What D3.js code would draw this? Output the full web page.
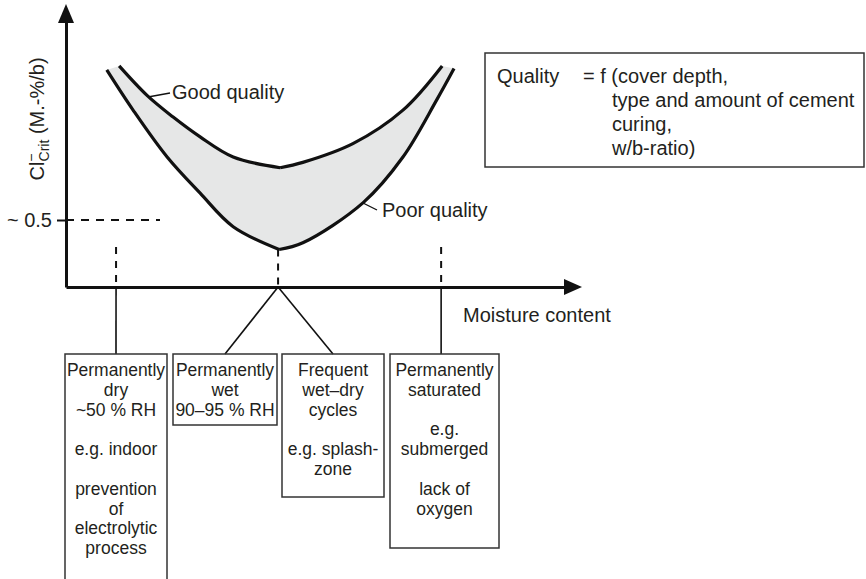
<!DOCTYPE html>
<html>
<head>
<meta charset="utf-8">
<script src="https://cdn.jsdelivr.net/npm/d3@7"></script>
<style>
  body { margin: 0; background: #fff; }
  svg { font-family: "Liberation Sans", Arial, sans-serif; }
  text { fill: #231f20; }
</style>
</head>
<body>
<script>
// critical chloride content vs moisture content (schematic)
var poorX = [7.9, 13.0, 19.6, 26.0, 32.4, 41.3, 45.9, 57.6, 65.3, 71.9, 75.2];
var poorY = [1.62, 1.32, 0.97, 0.70, 0.45, 0.28, 0.33, 0.63, 0.97, 1.40, 1.63];
var goodX = [10.3, 15.7, 20.7, 26.0, 32.4, 41.5, 45.9, 55.6, 65.3, 72.9];
var goodY = [1.65, 1.43, 1.27, 1.12, 0.97, 0.89, 0.93, 1.07, 1.32, 1.65];

var moistureTicks = [9.7, 41.1, 72.7];
var yTicks = [0.5];
var yTickLabels = ["~ 0.5"];

var boxTexts = [
  ["Permanently", "dry", "~50 % RH", "", "e.g. indoor", "", "prevention", "of", "electrolytic", "process"],
  ["Permanently", "wet", "90\u201395 % RH"],
  ["Frequent", "wet\u2013dry", "cycles", "", "e.g. splash-", "zone"],
  ["Permanently", "saturated", "", "e.g.", "submerged", "", "lack of", "oxygen"]
];

var qualityLines = ["= f (cover depth,", "type and amount of cement", "curing,", "w/b-ratio)"];

var width = 866, height = 579;

var x = d3.scaleLinear().domain([0, 100]).range([66, 582]);
var y = d3.scaleLinear().domain([0, 2]).range([287, 19]);

var svg = d3.select("body").append("svg").attr("width", width).attr("height", height);

// band between the curves
var line = d3.line()
    .x(function(d) { return x(d[0]); })
    .y(function(d) { return y(d[1]); })
    .curve(d3.curveCatmullRom.alpha(0.5));

var poor = poorX.map(function(v, i) { return [v, poorY[i]]; });
var good = goodX.map(function(v, i) { return [v, goodY[i]]; });
var pMin = poorY.indexOf(d3.min(poorY)), gMin = goodY.indexOf(d3.min(goodY));
var branches = [poor.slice(0, pMin + 1), poor.slice(pMin), good.slice(gMin), good.slice(0, gMin + 1)];

var band = line(branches[0]) + line(branches[1]).replace("M", "L")
  + line(branches[2].slice().reverse()).replace("M", "L")
  + line(branches[3].slice().reverse()).replace("M", "L") + "Z";
svg.append("path").attr("d", band).attr("fill", "#e6e7e7");

branches.forEach(function(b) {
  svg.append("path").attr("d", line(b))
    .attr("fill", "none").attr("stroke", "#111").attr("stroke-width", 3.2);
});

// dashed guides
svg.append("line")
  .attr("x1", x(0)).attr("x2", 160).attr("y1", y(0.5)).attr("y2", y(0.5))
  .attr("stroke", "#111").attr("stroke-width", 2).attr("stroke-dasharray", "8,7");

moistureTicks.forEach(function(t, i) {
  var top = i == 1 ? y(d3.min(poorY)) : 247;
  svg.append("line")
    .attr("x1", x(t)).attr("x2", x(t)).attr("y1", top).attr("y2", y(0))
    .attr("stroke", "#111").attr("stroke-width", 2).attr("stroke-dasharray", "7,7");
});

// axes
var yAxis = d3.axisLeft(y).tickValues(yTicks).tickSize(9).tickSizeOuter(0).tickPadding(5)
    .tickFormat(function(d, i) { return yTickLabels[i]; });
var gy = svg.append("g").attr("transform", "translate(" + x(0) + ",0)").call(yAxis);
gy.select(".domain").attr("stroke", "#111").attr("stroke-width", 3);
gy.selectAll(".tick line").attr("stroke", "#111").attr("stroke-width", 2);
gy.selectAll(".tick text").attr("font-size", 20).attr("fill", "#231f20").attr("font-family", "Liberation Sans, Arial, sans-serif");

var xAxisScale = x.copy().domain([0, x.invert(568)]).range([x(0), 568]);
var gx = svg.append("g").attr("transform", "translate(0," + y(0) + ")")
  .call(d3.axisBottom(xAxisScale).tickValues([]).tickSizeOuter(0));
gx.select(".domain").attr("stroke", "#111").attr("stroke-width", 3);

// arrow heads
svg.append("path").attr("d", "M" + x(0) + ",4L" + (x(0) - 8) + ",23L" + (x(0) + 8) + ",23Z").attr("fill", "#111");
svg.append("path").attr("d", "M582," + y(0) + "L564," + (y(0) - 8) + "L564," + (y(0) + 8) + "Z").attr("fill", "#111");

// axis titles
svg.append("text").attr("x", 463).attr("y", 322).attr("font-size", 20).text("Moisture content");

var yl = svg.append("text").attr("transform", "translate(44,119) rotate(-90)")
  .attr("text-anchor", "middle").attr("font-size", 20);
yl.append("tspan").text("Cl");
yl.append("tspan").attr("font-size", 14).attr("dy", -8).text("\u2212");
yl.append("tspan").attr("font-size", 14).attr("dx", -8).attr("dy", 13).text("Crit");
yl.append("tspan").attr("dy", -5).text(" (M.-%/b)");

// curve labels
svg.append("line").attr("x1", 148).attr("y1", 97).attr("x2", 170).attr("y2", 93).attr("stroke", "#111").attr("stroke-width", 1.3);
svg.append("text").attr("x", 172).attr("y", 99).attr("font-size", 20).text("Good quality");
svg.append("line").attr("x1", 363).attr("y1", 203).attr("x2", 377).attr("y2", 210).attr("stroke", "#111").attr("stroke-width", 1.3);
svg.append("text").attr("x", 382).attr("y", 217).attr("font-size", 20).text("Poor quality");

// quality box
svg.append("rect").attr("x", 485).attr("y", 53).attr("width", 379).attr("height", 114)
  .attr("fill", "none").attr("stroke", "#333").attr("stroke-width", 1.5);
svg.append("text").attr("x", 497).attr("y", 83).attr("font-size", 20).text("Quality");
qualityLines.forEach(function(s, i) {
  svg.append("text").attr("x", i == 0 ? 583 : 612).attr("y", 83 + i * 24).attr("font-size", 20).text(s);
});

// connectors from the axis to the boxes
var boxes = [
  {x: 65, w: 102, h: 260},
  {x: 173, w: 104, h: 71},
  {x: 282, w: 102, h: 143},
  {x: 390, w: 109, h: 194}
];
var boxTop = 354;
[[x(moistureTicks[0]), 116], [x(moistureTicks[1]), 225], [x(moistureTicks[1]), 333], [x(moistureTicks[2]), x(moistureTicks[2])]]
  .forEach(function(c) {
    svg.append("line").attr("x1", c[0]).attr("y1", y(0)).attr("x2", c[1]).attr("y2", boxTop)
      .attr("stroke", "#111").attr("stroke-width", 1.6);
  });

boxes.forEach(function(b, i) {
  svg.append("rect").attr("x", b.x).attr("y", boxTop).attr("width", b.w).attr("height", b.h)
    .attr("fill", "none").attr("stroke", "#333").attr("stroke-width", 1.5);
  var t = svg.append("text").attr("text-anchor", "middle").attr("font-size", 17.5);
  boxTexts[i].forEach(function(s, j) {
    t.append("tspan").attr("x", b.x + b.w / 2).attr("y", 376 + j * 19.8).text(s);
  });
});
</script>
</body>
</html>
